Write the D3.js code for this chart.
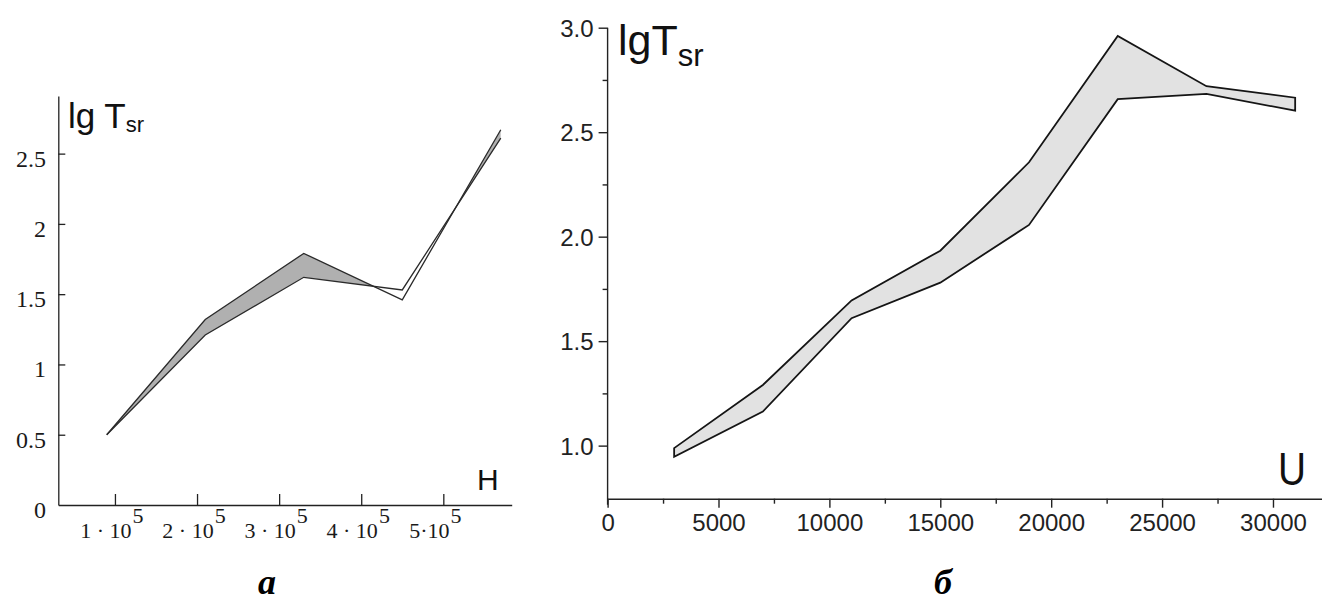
<!DOCTYPE html>
<html>
<head>
<meta charset="utf-8">
<script src="https://cdn.jsdelivr.net/npm/d3@7/dist/d3.min.js"></script>
<style>
  html, body { margin: 0; padding: 0; background: #fff; }
  svg { display: block; }
</style>
</head>
<body>
<svg id="chart" width="1322" height="604"></svg>
<script>
// ---------- Data: panel a (lg T_sr vs H) ----------
const hValues   = [0.9e5, 2.1e5, 3.3e5, 4.5e5, 5.7e5];
const hSeriesA  = [0.5, 1.32, 1.79, 1.46, 2.67];
const hSeriesB  = [0.5, 1.21, 1.62, 1.53, 2.61];
const hTicks    = [1e5, 2e5, 3e5, 4e5, 5e5];
const hTickText = ["1 · 10", "2 · 10", "3 · 10", "4 · 10", "5·10"];
const hTickExp  = ["5", "5", "5", "5", "5"];
const lgTicksA  = [0, 0.5, 1, 1.5, 2, 2.5];
const lgTickTextA = ["0", "0.5", "1", "1.5", "2", "2.5"];

// ---------- Data: panel б (lg T_sr vs U) ----------
const uValues   = [3000, 7000, 11000, 15000, 19000, 23000, 27000, 31000];
const uUpper    = [0.988, 1.29, 1.695, 1.933, 2.356, 2.96, 2.72, 2.665];
const uLower    = [0.947, 1.163, 1.61, 1.78, 2.056, 2.658, 2.683, 2.603];
const uTicks    = [0, 5000, 10000, 15000, 20000, 25000, 30000];
const uMinorTicks = [2500, 7500, 12500, 17500, 22500, 27500];
const lgTicksB  = [1.0, 1.5, 2.0, 2.5, 3.0];
const lgMinorB  = [1.25, 1.75, 2.25, 2.75];

const svg = d3.select("#chart");
const serif = "'Liberation Serif', 'Times New Roman', serif";
const sans  = "'Liberation Sans', Arial, sans-serif";

// ===================== Panel a =====================
const xA = d3.scaleLinear().domain([0.31e5, 5.833e5]).range([58.3, 511.7]);
const yA = d3.scaleLinear().domain([0, 2.91]).range([505, 96]);
const gA = svg.append("g");

const ptsA = hValues.map((h, i) => ({h, a: hSeriesA[i], b: hSeriesB[i]}));

// clip: region above series B
const defs = svg.append("defs");
defs.append("clipPath").attr("id", "aboveB")
  .append("path")
  .attr("d", d3.area().x(d => xA(d.h)).y0(yA(2.91)).y1(d => yA(d.b))(ptsA));

// fill: region under series A, clipped to above B => band where A > B
gA.append("path")
  .attr("d", d3.area().x(d => xA(d.h)).y0(yA(0)).y1(d => yA(d.a))(ptsA))
  .attr("clip-path", "url(#aboveB)")
  .attr("fill", "#b0b0b0");

gA.append("path").attr("d", d3.line().x(d => xA(d.h)).y(d => yA(d.a))(ptsA))
  .attr("fill", "none").attr("stroke", "#2a2a2a").attr("stroke-width", 1.3);
gA.append("path").attr("d", d3.line().x(d => xA(d.h)).y(d => yA(d.b))(ptsA))
  .attr("fill", "none").attr("stroke", "#2a2a2a").attr("stroke-width", 1.3);

// y axis (ticks inward)
const yAxisA = gA.append("g").attr("transform", `translate(${xA.range()[0]},0)`)
  .call(d3.axisLeft(yA).tickValues(lgTicksA.slice(1)).tickSize(-7).tickSizeOuter(0).tickFormat(""));
yAxisA.selectAll("path, line").attr("stroke", "#222").attr("stroke-width", 1.3);
gA.selectAll(".ylabA").data(lgTicksA).join("text")
  .attr("x", 46).attr("y", d => yA(d) + 13)
  .attr("text-anchor", "end")
  .attr("font-family", serif).attr("font-size", 24).attr("fill", "#1a1a1a")
  .text((d, i) => lgTickTextA[i]);

// x axis (ticks upward)
const xAxisA = gA.append("g").attr("transform", `translate(0,${yA(0)})`)
  .call(d3.axisBottom(xA).tickValues(hTicks).tickSize(-11).tickSizeOuter(0).tickFormat(""));
xAxisA.selectAll("path, line").attr("stroke", "#222").attr("stroke-width", 1.3);
const xlabA = gA.selectAll(".xlabA").data(hTicks).join("text")
  .attr("x", (d, i) => xA(d) - (i === 4 ? 8 : 3)).attr("y", 538)
  .attr("text-anchor", "middle")
  .attr("font-family", serif).attr("font-size", 22).attr("fill", "#1a1a1a");
xlabA.append("tspan").text((d, i) => hTickText[i]);
xlabA.append("tspan").attr("dy", -15).attr("dx", 1).text((d, i) => hTickExp[i]);

// title + axis name
const tA = gA.append("text").attr("x", 68).attr("y", 128)
  .attr("font-family", sans).attr("font-size", 35).attr("fill", "#111");
tA.append("tspan").text("lg T");
tA.append("tspan").attr("font-size", 22).attr("dy", 4).text("sr");
gA.append("text").attr("x", 477).attr("y", 490)
  .attr("font-family", sans).attr("font-size", 30).attr("fill", "#111").text("H");

// panel letter
svg.append("text").attr("x", 267).attr("y", 594).attr("text-anchor", "middle")
  .attr("font-family", serif).attr("font-size", 36).attr("font-weight", "bold")
  .attr("font-style", "italic").attr("fill", "#000").text("a");

// ===================== Panel б =====================
const xB = d3.scaleLinear().domain([0, 32210]).range([607.6, 1322]);
const yB = d3.scaleLinear().domain([0.746, 3.0]).range([498.7, 27.7]);
const gB = svg.append("g");

const ptsB = uValues.map((u, i) => ({u, hi: uUpper[i], lo: uLower[i]}));
const bandB = d3.area().x(d => xB(d.u)).y0(d => yB(d.lo)).y1(d => yB(d.hi));
gB.append("path").attr("d", bandB(ptsB) + "Z")
  .attr("fill", "#e2e2e2").attr("stroke", "#151515").attr("stroke-width", 1.8)
  .attr("stroke-linejoin", "miter");

// y axis
const yAxisB = gB.append("g").attr("transform", `translate(${xB(0)},0)`)
  .call(d3.axisLeft(yB).tickValues(lgTicksB).tickSize(9).tickSizeOuter(0).tickPadding(5)
    .tickFormat(d3.format(".1f")));
yAxisB.select(".domain").attr("d", `M0,${yB(3.0)}V${yB(0.746) + 6}`);
yAxisB.selectAll("path, line").attr("stroke", "#222").attr("stroke-width", 1.4);
yAxisB.selectAll("text").attr("font-family", sans).attr("font-size", 24).attr("fill", "#222")
  .attr("dy", "0.36em");
gB.append("g").attr("transform", `translate(${xB(0)},0)`)
  .call(d3.axisLeft(yB).tickValues(lgMinorB).tickSize(5).tickFormat(""))
  .call(g => g.select(".domain").remove())
  .selectAll("line").attr("stroke", "#222").attr("stroke-width", 1.4);

// x axis
const xAxisB = gB.append("g").attr("transform", `translate(0,${yB(0.746)})`)
  .call(d3.axisBottom(xB).tickValues(uTicks).tickSize(9).tickSizeOuter(0).tickPadding(6)
    .tickFormat(d3.format("d")));
xAxisB.selectAll("path, line").attr("stroke", "#222").attr("stroke-width", 1.4);
xAxisB.selectAll("text").attr("font-family", sans).attr("font-size", 24).attr("fill", "#222");
gB.append("g").attr("transform", `translate(0,${yB(0.746)})`)
  .call(d3.axisBottom(xB).tickValues(uMinorTicks).tickSize(5).tickFormat(""))
  .call(g => g.select(".domain").remove())
  .selectAll("line").attr("stroke", "#222").attr("stroke-width", 1.4);

// title + axis name
const tB = gB.append("text").attr("x", 618).attr("y", 55)
  .attr("font-family", sans).attr("font-size", 43).attr("fill", "#111");
tB.append("tspan").text("lgT");
tB.append("tspan").attr("font-size", 31).attr("dy", 11).text("sr");
gB.append("text").attr("x", 1278).attr("y", 485)
  .attr("font-family", sans).attr("font-size", 46).attr("fill", "#111")
  .attr("textLength", 28).attr("lengthAdjust", "spacingAndGlyphs").text("U");

svg.append("text").attr("x", 943).attr("y", 594).attr("text-anchor", "middle")
  .attr("font-family", serif).attr("font-size", 36).attr("font-weight", "bold")
  .attr("font-style", "italic").attr("fill", "#000").text("б");
</script>
</body>
</html>
